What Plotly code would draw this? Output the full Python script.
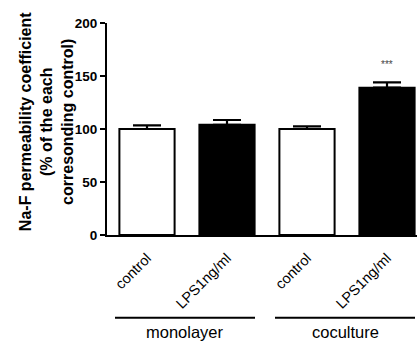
import plotly.graph_objects as go

categories = ["control", "LPS1ng/ml", "control", "LPS1ng/ml"]
values = [100, 104, 100, 139]
errors = [3.5, 4.5, 2.5, 5]
fills = ["white", "black", "white", "black"]
groups = ["monolayer", "coculture"]
group_members = [[0, 1], [2, 3]]
sig_labels = ["", "", "", "***"]
y_ticks = [0, 50, 100, 150, 200]
y_title = "Na-F permeability coefficient<br>(% of the each<br>corresonding control)"

x = list(range(len(categories)))
FONT = "Liberation Sans, Arial, sans-serif"

fig = go.Figure()
fig.add_trace(go.Bar(
    x=x, y=values, width=0.69,
    marker=dict(color=fills, line=dict(color="black", width=2)),
    error_y=dict(type="data", array=errors, arrayminus=[0]*len(errors),
                 symmetric=False, color="black", thickness=2.2, width=14),
    showlegend=False,
))

annotations = []
for xi, v, e, s in zip(x, values, errors, sig_labels):
    if s:
        annotations.append(dict(x=xi, y=v + e + 10, xref="x", yref="y", text=s,
                                showarrow=False, yanchor="bottom",
                                font=dict(family=FONT, size=10, color="#444")))

shapes = []
for g, mem in zip(groups, group_members):
    x0 = min(mem) - 0.4
    x1 = max(mem) + 0.35
    shapes.append(dict(type="line", xref="x", yref="paper", x0=x0, x1=x1,
                       y0=-0.39, y1=-0.39, line=dict(color="black", width=2)))
    annotations.append(dict(x=(x0 + x1) / 2, y=-0.405, xref="x", yref="paper",
                            text=g, showarrow=False, yanchor="top",
                            font=dict(family=FONT, size=16.5, color="black")))

annotations.append(dict(x=-0.195, y=0.535, xref="paper", yref="paper", text=y_title,
                        textangle=-90, showarrow=False, xanchor="center", yanchor="middle",
                        font=dict(family=FONT, size=16, color="black", weight="bold")))

fig.update_layout(
    width=417, height=341,
    margin=dict(l=107, r=0, t=23, b=106),
    plot_bgcolor="white", paper_bgcolor="white",
    font=dict(family=FONT, color="black"),
    bargap=0.3,
    xaxis=dict(range=[-0.5, 3.375], tickmode="array", tickvals=x, ticktext=categories,
               tickangle=-45, ticks="", showline=True, linecolor="black", linewidth=2,
               showgrid=False, zeroline=False, ticklabelstandoff=7,
               tickfont=dict(family=FONT, size=14.5, color="black")),
    yaxis=dict(range=[0, 200], tickmode="array", tickvals=y_ticks,
               ticks="outside", ticklen=5, tickwidth=2, tickcolor="black",
               showline=True, linecolor="black", linewidth=2,
               showgrid=False, zeroline=False,
               tickfont=dict(family=FONT, size=13.5, color="black", weight="bold")),
    shapes=shapes,
    annotations=annotations,
)

fig.write_html("out.html")
